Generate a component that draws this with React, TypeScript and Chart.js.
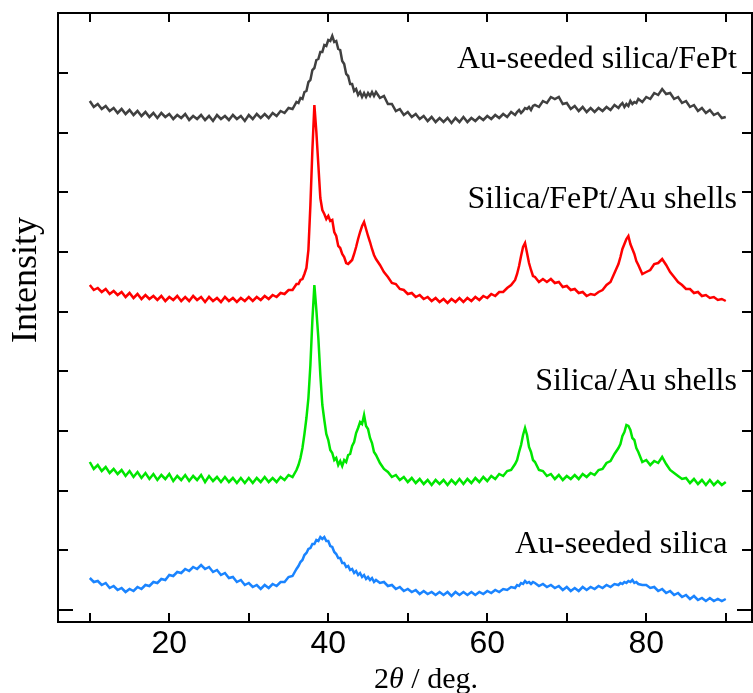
import { useEffect, useRef } from 'react';
import { Chart, registerables } from 'chart.js';

Chart.register(...registerables);

function range(a: number, b: number, step: number): number[] {
  const out: number[] = [];
  for (let i = 0; a + i * step <= b + 1e-9; i++) out.push(+(a + i * step).toFixed(2));
  return out;
}

// 2θ sampling grid (deg.), finer around the diffraction peaks
const twoTheta: number[] = [
  ...range(10, 36, 0.5),
  ...range(36.25, 46, 0.25),
  ...range(46.5, 63.5, 0.5),
  ...range(63.75, 66, 0.25),
  ...range(66.5, 76.5, 0.5),
  ...range(76.75, 79, 0.25),
  ...range(79.5, 90, 0.5),
];

// Intensities (arbitrary units, offset-stacked)
const auSeededSilicaFePt: number[] = [
  509,503,506,501,504,499,502,497,501,496,500,495,499,494,498,493,497,492,497,493,496,491,495,492,496,490,494,491,495,490,494,489,495,491,494,490,495,491,494,489,495,491,496,492,496,492,497,494,499,497,502,501,508,
  507,512,511,518,519,528,530,540,542,550,551,558,558,565,564,570,569,574,568,569,561,560,549,546,536,534,526,526,519,521,515,518,513,517,513,517,514,518,514,518,
  512,514,506,506,499,501,495,498,493,496,491,494,489,493,488,492,488,492,487,492,488,493,488,492,489,493,490,494,491,495,492,496,493,498,495,
  498,500,497,499,502,501,503,500,504,505,
  503,509,507,513,511,513,506,507,501,504,499,503,498,502,498,502,499,503,500,505,502,
  505,507,503,506,504,509,506,508,507,511,
  508,513,511,517,515,521,516,517,511,513,507,509,503,505,499,502,497,500,495,497,492,493,
];

const silicaFePtAuShells: number[] = [
  325,320,322,318,321,316,319,315,318,313,317,312,316,311,315,311,314,310,314,309,313,310,314,309,313,309,314,310,313,308,313,309,312,308,313,309,312,308,312,309,313,309,313,310,314,311,315,313,317,316,320,320,326,
  326,330,331,336,342,360,405,460,505,478,445,412,400,396,391,394,389,390,378,374,364,362,356,353,347,346,348,350,356,363,371,378,384,388,381,374,368,361,355,351,
  345,338,333,327,326,321,320,316,317,313,315,311,313,309,312,308,311,307,311,308,312,308,312,309,313,310,314,312,316,314,318,318,322,325,330,
  336,344,354,363,367,357,347,340,334,333,
  328,331,328,331,327,328,323,324,320,321,317,318,314,316,315,318,320,325,328,337,346,
  353,361,366,371,374,366,361,356,349,345,
  336,338,340,346,347,351,345,338,333,328,325,321,321,317,318,314,315,312,313,310,311,309,
];

const silicaAuShells: number[] = [
  148,141,145,139,143,137,141,136,140,134,139,133,138,132,137,131,136,130,135,131,136,129,134,130,135,129,134,130,135,128,134,129,133,128,133,128,132,127,132,127,132,127,132,128,133,128,132,128,133,130,135,133,140,
  145,152,162,176,192,212,245,290,325,300,272,235,205,190,176,170,160,157,150,152,145,149,144,150,148,155,156,164,168,177,182,188,186,195,184,181,172,167,158,155,
  147,141,138,133,135,130,133,128,132,127,131,126,130,125,130,126,130,125,130,126,131,126,131,127,132,128,133,129,134,131,136,134,139,140,146,
  150,158,165,175,182,175,163,158,150,148,
  140,139,134,136,131,135,130,134,131,135,131,136,133,137,135,140,141,147,149,156,162,
  166,174,178,185,184,180,172,170,162,158,
  148,150,145,149,147,153,146,140,137,134,131,132,127,131,126,130,125,130,125,129,125,128,
];

const auSeededSilica: number[] = [
  32,28,29,25,27,22,24,20,22,18,21,19,23,21,25,24,28,27,31,30,35,34,38,37,41,39,43,41,45,41,43,38,40,35,37,32,33,28,30,25,27,23,25,21,25,22,26,24,28,28,33,34,41,
  44,48,50,55,57,61,62,66,66,70,69,73,71,73,69,69,64,63,58,56,52,52,47,47,43,44,40,41,37,39,35,37,33,35,31,33,30,32,28,30,
  27,28,24,25,21,23,19,21,18,20,16,19,16,18,15,18,15,18,14,18,15,18,15,18,15,18,16,19,17,20,18,21,20,23,22,
  25,24,27,26,29,27,28,26,28,27,
  24,26,23,25,22,24,20,23,19,22,19,23,20,23,21,24,22,25,23,26,25,
  27,26,28,27,29,28,30,27,28,26,
  25,25,22,23,19,21,17,19,15,17,13,15,11,14,10,12,9,12,9,11,9,11,
];

const seriesNames = ['Au-seeded silica/FePt', 'Silica/FePt/Au shells', 'Silica/Au shells', 'Au-seeded silica'];
const seriesColors = ['#404040', '#ff0000', '#00e600', '#1a84ff'];
const seriesValues = [auSeededSilicaFePt, silicaFePtAuShells, silicaAuShells, auSeededSilica];

// label anchors (right end, baseline) in data units
const labelAngle = [91.4, 91.4, 91.4, 90.2];
const labelLevel = [542, 402, 220, 57];

const xTickValues = [10, 20, 30, 40, 50, 60, 70, 80, 90];
const xLabelValues = [20, 40, 60, 80];
const yTickValues = [0, 60, 119, 179, 239, 298, 358, 418, 477, 537];

const SERIF = '"Liberation Serif", "Times New Roman", serif';
const SANS = '"Liberation Sans", Arial, sans-serif';

const framePlugin = {
  id: 'frameAndText',
  afterDatasetsDraw(chart: any) {
    const { ctx, chartArea, scales } = chart;
    const { left, right, top, bottom } = chartArea;
    const x = scales.x;
    const y = scales.y;
    ctx.save();
    ctx.strokeStyle = '#000';
    ctx.lineWidth = 2;
    ctx.strokeRect(left, top, right - left, bottom - top);
    ctx.beginPath();
    for (const v of xTickValues) {
      const px = Math.round(x.getPixelForValue(v));
      ctx.moveTo(px, bottom);
      ctx.lineTo(px, bottom - 9);
      ctx.moveTo(px, top);
      ctx.lineTo(px, top + 9);
    }
    yTickValues.forEach((v, i) => {
      const py = Math.round(y.getPixelForValue(v));
      const len = i === 0 ? 15 : 10;
      ctx.moveTo(left, py);
      ctx.lineTo(left + len, py);
      ctx.moveTo(right, py);
      ctx.lineTo(right - len, py);
    });
    ctx.stroke();

    ctx.fillStyle = '#000';
    ctx.font = `32px ${SERIF}`;
    ctx.textAlign = 'right';
    ctx.textBaseline = 'alphabetic';
    seriesNames.forEach((name, i) => {
      ctx.fillText(name, x.getPixelForValue(labelAngle[i]), y.getPixelForValue(labelLevel[i]));
    });

    // y title
    ctx.save();
    ctx.font = `36px ${SERIF}`;
    ctx.textAlign = 'center';
    ctx.translate(36, 280);
    ctx.rotate(-Math.PI / 2);
    ctx.fillText('Intensity', 0, 0);
    ctx.restore();

    // x title: 2θ / deg.
    const parts: [string, string][] = [
      ['2', `30px ${SERIF}`],
      ['θ', `italic 30px ${SERIF}`],
      [' / deg.', `30px ${SERIF}`],
    ];
    let total = 0;
    for (const [t, f] of parts) { ctx.font = f; total += ctx.measureText(t).width; }
    let cx = 426 - total / 2;
    ctx.textAlign = 'left';
    for (const [t, f] of parts) {
      ctx.font = f;
      ctx.fillText(t, cx, 688);
      cx += ctx.measureText(t).width;
    }
    ctx.restore();
  },
};

export default function App() {
  const ref = useRef<HTMLCanvasElement>(null);
  useEffect(() => {
    const chart = new Chart(ref.current!, {
      type: 'line',
      data: {
        datasets: seriesValues.map((vals, i) => ({
          label: seriesNames[i],
          data: twoTheta.map((t, j) => ({ x: t, y: vals[j] })),
          borderColor: seriesColors[i],
          backgroundColor: seriesColors[i],
          borderWidth: 2.5,
          pointRadius: 0,
          tension: 0,
          fill: false,
        })),
      },
      options: {
        animation: false,
        responsive: false,
        devicePixelRatio: 1,
        layout: { padding: { top: 13, right: 1, left: 0, bottom: 0 } },
        plugins: { legend: { display: false }, tooltip: { enabled: false } },
        scales: {
          x: {
            type: 'linear',
            min: 6,
            max: 93.3,
            afterBuildTicks: (s: any) => { s.ticks = xTickValues.map((v) => ({ value: v })); },
            afterFit: (s: any) => { s.height = 71; },
            ticks: {
              autoSkip: false,
              maxRotation: 0,
              padding: 3,
              color: '#000',
              font: { family: SANS, size: 32 },
              callback: (v: any) => (xLabelValues.includes(Number(v)) ? String(v) : ''),
            },
            grid: { display: false, drawTicks: false },
            border: { display: false },
          },
          y: {
            type: 'linear',
            min: -12,
            max: 597,
            afterFit: (s: any) => { s.width = 58; },
            ticks: { display: false },
            grid: { display: false, drawTicks: false },
            border: { display: false },
          },
        },
      },
      plugins: [framePlugin],
    } as any);
    return () => chart.destroy();
  }, []);
  return (
    <div style={{ position: 'absolute', left: 0, top: 0, width: 753, height: 693, background: '#fff' }}>
      <canvas ref={ref} width={753} height={693} style={{ display: 'block', width: 753, height: 693 }} />
    </div>
  );
}
